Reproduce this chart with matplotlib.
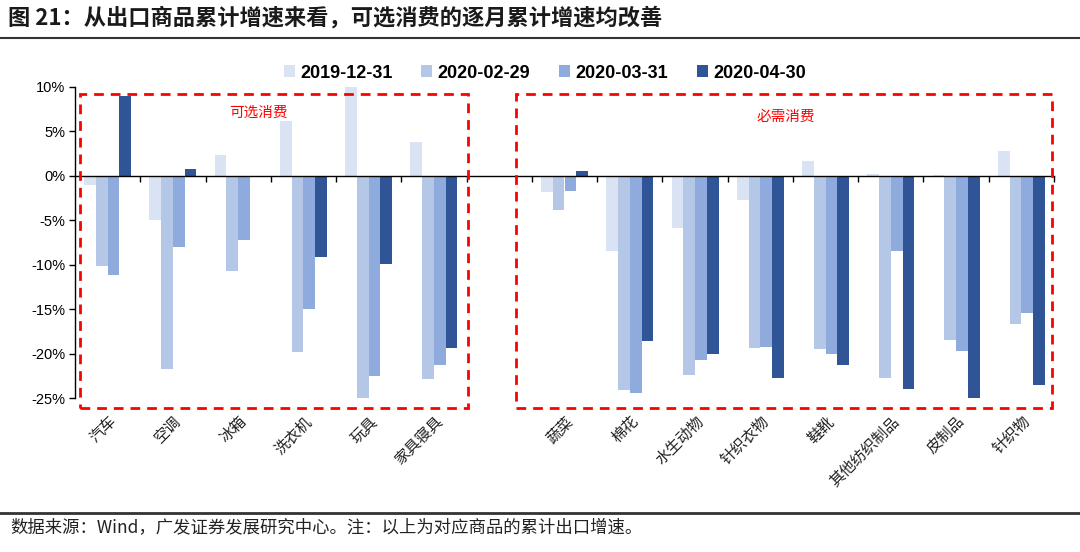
import numpy as np
import matplotlib
matplotlib.use('Agg')
import matplotlib.pyplot as plt
from matplotlib.patches import Patch, Rectangle
from matplotlib.lines import Line2D

plt.rcParams['font.family'] = ['Liberation Sans', 'Noto Sans CJK SC', 'DejaVu Sans']
plt.rcParams['axes.unicode_minus'] = False

# ===================== 数据 =====================
categories = ['汽车', '空调', '冰箱', '洗衣机', '玩具', '家具寝具', '',
              '蔬菜', '棉花', '水生动物', '针织衣物', '鞋靴', '其他纺织制品', '皮制品', '针织物']
series_names = ['2019-12-31', '2020-02-29', '2020-03-31', '2020-04-30']
v_2019_12 = [-1.0, -5.0, 2.3, 6.2, 10.2, 3.8, np.nan,
             -1.8, -8.5, -5.9, -2.7, 1.7, 0.2, 0.1, 2.8]
v_2020_02 = [-10.1, -21.7, -10.7, -19.8, -25.1, -22.8, np.nan,
             -3.9, -24.1, -22.4, -19.3, -19.5, -22.7, -18.4, -16.7]
v_2020_03 = [-11.2, -8.0, -7.2, -15.0, -22.5, -21.3, np.nan,
             -1.7, -24.4, -20.7, -19.2, -20.0, -8.5, -19.7, -15.4]
v_2020_04 = [8.9, 0.7, -0.15, -9.1, -9.9, -19.3, np.nan,
             0.5, -18.6, -20.0, -22.7, -21.3, -24.0, -25.0, -23.5]
colors = ['#DAE3F3', '#B4C7E7', '#8FAADC', '#2F5597']
y_ticks = [-25, -20, -15, -10, -5, 0, 5, 10]

# ===================== 画布 =====================
W, H = 1080, 552
fig = plt.figure(figsize=(W / 100, H / 100), dpi=100)

def fx(px):
    return px / W

def fy(py):
    return 1 - py / H

ax = fig.add_axes([fx(75), fy(398.3), fx(1054) - fx(75), fy(86.7) - fy(398.3)])

x = np.arange(len(categories))
bw = 0.18
all_vals = [v_2019_12, v_2020_02, v_2020_03, v_2020_04]
for i, (vals, c) in enumerate(zip(all_vals, colors)):
    ax.bar(x + (i - 1.5) * bw, vals, width=bw, color=c, linewidth=0, zorder=2)

ax.set_xlim(-0.5, len(categories) - 0.5)
ax.set_ylim(-25, 10)
ax.set_yticks(y_ticks)
ax.set_yticklabels([f'{t}%' for t in y_ticks], fontsize=10.5)
ax.tick_params(axis='y', direction='out', length=4, width=1, pad=3, colors='black')

# x 轴在 0 位置
ax.spines['top'].set_visible(False)
ax.spines['right'].set_visible(False)
ax.spines['bottom'].set_position(('data', 0))
ax.spines['bottom'].set_zorder(3)
ax.spines['left'].set_linewidth(1)
ax.spines['bottom'].set_linewidth(1)
ax.set_xticks(np.arange(0.5, len(categories) + 0.5, 1.0))
ax.set_xticklabels([])
ax.tick_params(axis='x', direction='out', length=4, width=1)

# 类别标签
for xi, lab in zip(x, categories):
    if lab:
        fig.text(fx(75 + (xi + 0.5) * 65.27), fy(413), lab, rotation=45,
                 ha='right', va='top', rotation_mode='anchor',
                 fontsize=11, family=['Noto Sans CJK SC'], color='#222222')

# 红色虚线框
for x0, x1 in [(80, 468), (516, 1052)]:
    fig.patches.append(Rectangle((fx(x0), fy(408)), fx(x1) - fx(x0), fy(94) - fy(408),
                                 transform=fig.transFigure, fill=False, edgecolor='#FF0000',
                                 linewidth=2, linestyle=(0, (3.5, 2.5)), zorder=5))
fig.text(fx(258), fy(113), '可选消费', color='#FF0000', fontsize=10.5,
         ha='center', va='center', family=['Noto Sans CJK SC'])
fig.text(fx(786), fy(117), '必需消费', color='#FF0000', fontsize=10.5,
         ha='center', va='center', family=['Noto Sans CJK SC'])

# 图例
handles = [Patch(facecolor=c, edgecolor='none') for c in colors]
fig.legend(handles, series_names, loc='center', bbox_to_anchor=(fx(545), fy(73)),
           ncol=4, frameon=False, handlelength=0.6, handleheight=0.6,
           handletextpad=0.3, columnspacing=1.6,
           prop={'family': 'Liberation Sans', 'weight': 'bold', 'size': 13})

# 标题与脚注
fig.text(fx(8), fy(18), '图 21：从出口商品累计增速来看，可选消费的逐月累计增速均改善',
         fontsize=16, fontweight='bold', ha='left', va='center',
         family=['Noto Sans CJK SC'], color='#1a1a1a')
fig.add_artist(Line2D([0, 1], [fy(38), fy(38)], transform=fig.transFigure,
                      color='#333333', linewidth=1.5))
fig.add_artist(Line2D([0, 1], [fy(513), fy(513)], transform=fig.transFigure,
                      color='#333333', linewidth=2))
fig.text(fx(10), fy(528), '数据来源：Wind，广发证券发展研究中心。注：以上为对应商品的累计出口增速。',
         fontsize=12.5, ha='left', va='center', family=['Noto Sans CJK SC'], color='#222222')

fig.savefig('out.png', dpi=100)
